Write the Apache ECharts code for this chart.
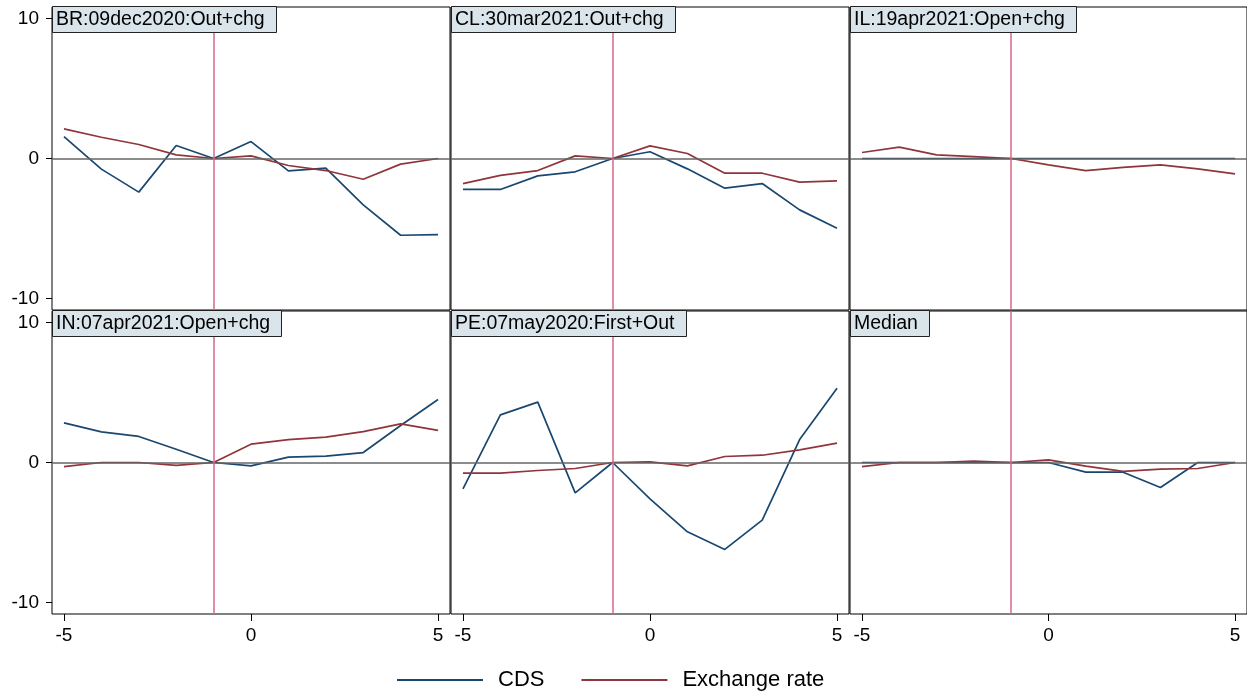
<!DOCTYPE html>
<html>
<head>
<meta charset="utf-8">
<script src="https://cdn.jsdelivr.net/npm/echarts@6/dist/echarts.min.js"></script>
<style>
html,body{margin:0;padding:0;background:#fff;}
#chart{width:1247px;height:692px;}
</style>
</head>
<body>
<div id="chart"></div>
<script>
const xs = [-5,-4,-3,-2,-1,0,1,2,3,4,5];
const panelTitles = ['BR:09dec2020:Out+chg','CL:30mar2021:Out+chg','IL:19apr2021:Open+chg','IN:07apr2021:Open+chg','PE:07may2020:First+Out','Median'];
const cdsBR  = [1.57,-0.76,-2.40,0.93,0,1.21,-0.88,-0.69,-3.31,-5.48,-5.43];
const fxBR   = [2.12,1.52,1.00,0.26,0,0.19,-0.50,-0.86,-1.48,-0.40,0];
const cdsCL  = [-2.21,-2.21,-1.24,-0.95,0,0.48,-0.74,-2.12,-1.79,-3.67,-4.98];
const fxCL   = [-1.79,-1.21,-0.86,0.19,0,0.90,0.36,-1.05,-1.05,-1.69,-1.60];
const cdsIL  = [0,0,0,0,0,0,0,0,0,0,0];
const fxIL   = [0.43,0.81,0.26,0.14,0,-0.45,-0.86,-0.64,-0.45,-0.74,-1.10];
const cdsIN  = [2.83,2.19,1.86,0.95,0,-0.24,0.38,0.45,0.71,2.64,4.50];
const fxIN   = [-0.29,0,0,-0.21,0,1.31,1.64,1.81,2.21,2.76,2.29];
const cdsPE  = [-1.88,3.40,4.31,-2.17,0,-2.60,-4.95,-6.21,-4.12,1.64,5.31];
const fxPE   = [-0.76,-0.76,-0.57,-0.43,0,0.05,-0.24,0.43,0.52,0.90,1.38];
const cdsMed = [0,0,0,0,0,0,-0.69,-0.69,-1.79,0,0];
const fxMed  = [-0.29,0,0,0.10,0,0.19,-0.26,-0.64,-0.48,-0.43,0];
const xTicks = [-5,0,5];
const yTicks = [-10,0,10];
const eventX = -1;

const cdsAll = [cdsBR,cdsCL,cdsIL,cdsIN,cdsPE,cdsMed];
const fxAll = [fxBR,fxCL,fxIL,fxIN,fxPE,fxMed];

const FONT = '"Liberation Sans", Arial, sans-serif';
const colLeft = [52,451,850];
const rowTop = [7,311];
const W = 398, H = 303;
const BLUE = '#1a476f', RED = '#90353b', PINK = '#d9668a';

const grids=[], xAxes=[], yAxes=[], series=[], titles=[];
for (let i=0;i<6;i++){
  const r = Math.floor(i/3), c = i%3;
  grids.push({left:colLeft[c], top:rowTop[r], width:W, height:H, show:true,
    borderColor:'#000', borderWidth:1, backgroundColor:'transparent', containLabel:false});
  xAxes.push({type:'value', gridIndex:i, min:-5.32, max:5.32, position:'bottom',
    axisLine:{show:false, onZero:false}, splitLine:{show:false},
    axisTick:{show:r===1, customValues:xTicks, length:7, lineStyle:{color:'#000',width:1}},
    axisLabel:{show:r===1, customValues:xTicks, margin:12, fontSize:19, color:'#000', fontFamily:FONT}});
  yAxes.push({type:'value', gridIndex:i, min:-10.82, max:10.82, position:'left',
    axisLine:{show:false, onZero:false}, splitLine:{show:false},
    axisTick:{show:c===0, customValues:yTicks, length:6, lineStyle:{color:'#000',width:1}},
    axisLabel:{show:c===0, customValues:yTicks, margin:13, fontSize:19, color:'#000', fontFamily:FONT}});
  series.push({type:'line', name:'ref'+i, xAxisIndex:i, yAxisIndex:i, data:[], z:1, silent:true,
    markLine:{silent:true, symbol:['none','none'], label:{show:false}, animation:false,
      data:[{yAxis:0, lineStyle:{color:'#666', width:1.5, type:'solid'}},
            {xAxis:eventX, lineStyle:{color:PINK, width:1.5, type:'solid'}}]}});
  series.push({type:'line', name:'CDS', xAxisIndex:i, yAxisIndex:i, symbol:'none', z:3,
    lineStyle:{color:BLUE, width:1.7}, itemStyle:{color:BLUE},
    data: xs.map((x,k)=>[x, cdsAll[i][k]])});
  series.push({type:'line', name:'Exchange rate', xAxisIndex:i, yAxisIndex:i, symbol:'none', z:3,
    lineStyle:{color:RED, width:1.7}, itemStyle:{color:RED},
    data: xs.map((x,k)=>[x, fxAll[i][k]])});
  titles.push({text:panelTitles[i], left:colLeft[c], top:rowTop[r], padding:[3,12,3,4],
    backgroundColor:'#dae5eb', borderColor:'#222', borderWidth:1,
    textStyle:{fontSize:19.5, fontWeight:'normal', color:'#000', fontFamily:FONT, lineHeight:19}});
}

const chart = echarts.init(document.getElementById('chart'), null, {renderer:'canvas'});
chart.setOption({
  animation:false,
  backgroundColor:'#fff',
  title:titles,
  grid:grids, xAxis:xAxes, yAxis:yAxes, series:series,
  legend:{data:['CDS','Exchange rate'], left:392, top:664, icon:'rect', itemWidth:86, itemHeight:2,
    itemGap:37, textStyle:{fontSize:22, color:'#000', fontFamily:FONT, padding:[0,0,0,10]}}
});
</script>
</body>
</html>
